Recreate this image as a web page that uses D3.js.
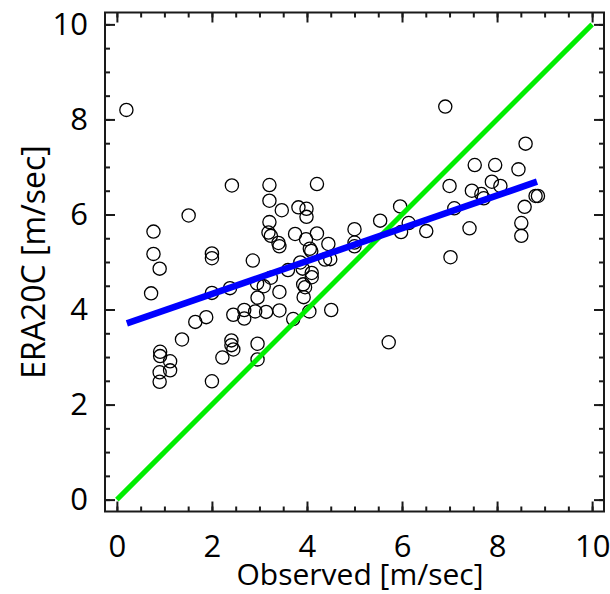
<!DOCTYPE html>
<html>
<head>
<meta charset="utf-8">
<script src="https://cdn.jsdelivr.net/npm/d3@7"></script>
<style>
  html, body { margin: 0; padding: 0; background: #fff; }
  svg { display: block; }
  text { font-family: "Open Sans", "DejaVu Sans", sans-serif; fill: #000; }
</style>
</head>
<body>
<svg id="chart" width="610" height="594"></svg>
<script>
// Observed vs ERA20C wind speed (m/sec)
const observed = [
  0.20, 0.77, 0.77, 0.90, 0.72, 0.91, 0.91, 1.12, 1.12, 0.90,
  0.90, 1.37, 1.51, 1.65, 1.88, 2.00, 2.00, 2.00, 2.00, 2.22,
  2.38, 2.41, 2.41, 2.45, 2.42, 2.45, 2.68, 2.68, 2.86, 2.91,
  2.96, 2.95, 2.96, 2.96, 3.09, 3.14, 3.21, 3.21, 3.21, 3.19,
  3.24, 3.24, 3.40, 3.42, 3.42, 3.42, 3.47, 3.60, 3.71, 3.75,
  3.82, 3.86, 3.91, 3.92, 3.96, 3.93, 3.99, 3.99, 3.98, 4.05,
  4.06, 4.09, 4.10, 4.10, 4.21, 4.21, 4.38, 4.49, 4.45, 4.51,
  5.00, 5.00, 5.00, 5.54, 5.96, 5.98, 6.14, 6.51, 5.72, 6.91,
  7.00, 7.10, 7.02, 7.42, 7.47, 7.53, 7.67, 7.72, 7.89, 7.96,
  8.07, 8.45, 8.51, 8.51, 8.58, 8.60, 8.81, 8.86
];
const era20c = [
  8.20, 5.64, 5.17, 4.86, 4.34, 3.11, 3.02, 2.91, 2.72, 2.68,
  2.48, 3.37, 5.98, 3.74, 3.84, 5.18, 5.08, 4.35, 2.49, 2.99,
  4.45, 3.35, 3.25, 3.16, 6.61, 3.89, 3.99, 3.81, 5.03, 3.96,
  4.25, 4.55, 3.28, 2.95, 4.49, 3.95, 6.62, 6.29, 5.84, 5.62,
  5.55, 4.67, 5.40, 5.33, 4.37, 3.98, 6.09, 4.83, 3.80, 5.59,
  6.15, 4.99, 4.86, 4.53, 4.47, 4.26, 6.12, 5.95, 5.48, 3.96,
  5.28, 5.23, 4.77, 4.68, 6.64, 5.60, 5.05, 5.06, 5.38, 3.99,
  5.69, 5.41, 5.33, 5.87, 6.17, 5.63, 5.82, 5.65, 3.31, 8.27,
  6.60, 6.13, 5.10, 5.71, 6.50, 7.04, 6.43, 6.34, 6.69, 7.04,
  6.60, 6.95, 5.82, 5.55, 6.16, 7.49, 6.39, 6.39
];

// Linear fit through the scatter (end points in data units)
const fitX = [0.21, 8.84];
const fitY = [3.71, 6.69];

// One-to-one reference line
const identityX = [0, 10];
const identityY = [0, 10];

const tickValues = [0, 2, 4, 6, 8, 10];
const minorTickValues = d3.range(0, 10.01, 0.5);

const xTitle = "Observed [m/sec]";
const yTitle = "ERA20C [m/sec]";

const frame = { left: 105, right: 604, top: 12.5, bottom: 511.5 };

const svg = d3.select("#chart");

const x = d3.scaleLinear().domain([-0.25, 10.25]).range([frame.left, frame.right]);
const y = d3.scaleLinear().domain([-0.25, 10.25]).range([frame.bottom, frame.top]);

const axisColor = "#1a1a1a";

// Scatter points
const pts = observed.map((v, i) => ({ x: v, y: era20c[i] }));
svg.append("g")
  .selectAll("circle")
  .data(pts)
  .join("circle")
  .attr("cx", d => x(d.x))
  .attr("cy", d => y(d.y))
  .attr("r", 6.6)
  .attr("fill", "none")
  .attr("stroke", "#000")
  .attr("stroke-width", 1.3);

const line = d3.line().x(d => x(d[0])).y(d => y(d[1]));

// 1:1 line
svg.append("path")
  .datum(identityX.map((v, i) => [v, identityY[i]]))
  .attr("d", line)
  .attr("fill", "none")
  .attr("stroke", "#00ee00")
  .attr("stroke-width", 5);

// Fit line
svg.append("path")
  .datum(fitX.map((v, i) => [v, fitY[i]]))
  .attr("d", line)
  .attr("fill", "none")
  .attr("stroke", "#0000ff")
  .attr("stroke-width", 6.5);

// Axes: ticks point inward on all four sides
function styleAxis(g) {
  g.select(".domain").remove();
  g.selectAll("line").attr("stroke", axisColor).attr("stroke-width", 2);
}
const majorLen = 10, minorLen = 5;

// bottom
svg.append("g").attr("transform", `translate(0,${frame.bottom})`)
  .call(d3.axisBottom(x).tickValues(minorTickValues).tickSize(-minorLen).tickFormat(""))
  .call(styleAxis);
svg.append("g").attr("transform", `translate(0,${frame.bottom})`)
  .call(d3.axisBottom(x).tickValues(tickValues).tickSize(-majorLen).tickPadding(23))
  .call(styleAxis)
  .call(g => g.selectAll("text").attr("font-size", 31).attr("dy", "0.71em")
    .style("font-family", '"Open Sans", sans-serif'));
// top
svg.append("g").attr("transform", `translate(0,${frame.top})`)
  .call(d3.axisTop(x).tickValues(minorTickValues).tickSize(-minorLen).tickFormat(""))
  .call(styleAxis);
svg.append("g").attr("transform", `translate(0,${frame.top})`)
  .call(d3.axisTop(x).tickValues(tickValues).tickSize(-majorLen).tickFormat(""))
  .call(styleAxis);
// left
svg.append("g").attr("transform", `translate(${frame.left},0)`)
  .call(d3.axisLeft(y).tickValues(minorTickValues).tickSize(-minorLen).tickFormat(""))
  .call(styleAxis);
svg.append("g").attr("transform", `translate(${frame.left},0)`)
  .call(d3.axisLeft(y).tickValues(tickValues).tickSize(-majorLen).tickPadding(17))
  .call(styleAxis)
  .call(g => g.selectAll("text").attr("font-size", 31)
    .style("font-family", '"Open Sans", sans-serif'));
// right
svg.append("g").attr("transform", `translate(${frame.right},0)`)
  .call(d3.axisRight(y).tickValues(minorTickValues).tickSize(-minorLen).tickFormat(""))
  .call(styleAxis);
svg.append("g").attr("transform", `translate(${frame.right},0)`)
  .call(d3.axisRight(y).tickValues(tickValues).tickSize(-majorLen).tickFormat(""))
  .call(styleAxis);

// Frame
svg.append("rect")
  .attr("x", frame.left).attr("y", frame.top)
  .attr("width", frame.right - frame.left).attr("height", frame.bottom - frame.top)
  .attr("fill", "none").attr("stroke", axisColor).attr("stroke-width", 2);

// Axis titles
svg.append("text")
  .attr("x", 360)
  .attr("y", 585)
  .attr("text-anchor", "middle")
  .attr("font-size", 30)
  .text(xTitle);

svg.append("text")
  .attr("transform", `translate(45,${(frame.top + frame.bottom) / 2}) rotate(-90)`)
  .attr("text-anchor", "middle")
  .attr("font-size", 32)
  .text(yTitle);
</script>
</body>
</html>
